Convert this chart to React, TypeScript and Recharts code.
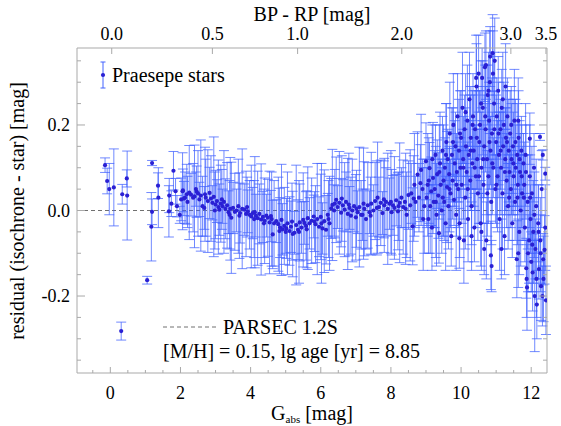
import { ScatterChart, Scatter, XAxis, YAxis, ErrorBar, ReferenceLine } from "recharts";

// [G_abs, residual, error]
const brightStars = [
  [-0.15, 0.106, 0.017], [-0.09, 0.069, 0.03], [-0.03, 0.05, 0.06], [0.1, 0.054, 0.09],
  [0.31, -0.282, 0.021], [0.34, 0.038, 0.023], [0.47, 0.075, 0.02], [0.48, 0.035, 0.104],
  [1.05, -0.163, 0.009], [1.19, 0.111, 0.006], [1.19, -0.003, 0.03], [1.17, -0.038, 0.08],
  [1.36, 0.058, 0.03], [1.37, 0.03, 0.07], [1.67, -0.002, 0.06], [1.68, 0.035, 0.04],
  [1.74, 0.016, 0.03], [1.8, 0.093, 0.045], [1.86, 0.045, 0.03], [1.9, 0.01, 0.025],
  [1.98, -0.01, 0.02], [2.07, 0.047, 0.05], [2.13, 0.03, 0.06],
];

const midStars = [
  [2.02, 0.026, 0.05], [2.06, 0.045, 0.09], [2.1, 0.028, 0.04], [2.18, 0.038, 0.07], [2.2, 0.02, 0.06],
  [2.25, 0.042, 0.11], [2.3, 0.037, 0.05], [2.36, 0.03, 0.08], [2.4, 0.033, 0.12], [2.44, 0.05, 0.04],
  [2.46, 0.044, 0.06], [2.5, 0.04, 0.1], [2.54, 0.026, 0.04], [2.58, 0.035, 0.13], [2.63, 0.01, 0.07],
  [2.68, 0.006, 0.05], [2.7, 0.038, 0.11], [2.72, 0.03, 0.09], [2.78, 0.022, 0.12], [2.83, 0.041, 0.06],
  [2.87, 0.028, 0.1], [2.91, 0.018, 0.04], [2.95, 0.032, 0.14], [2.98, 0.0, 0.09], [3.0, 0.014, 0.08],
  [3.04, 0.022, 0.05], [3.08, 0.008, 0.11], [3.11, 0.002, 0.06], [3.15, 0.016, 0.09], [3.18, 0.026, 0.07],
  [3.2, 0.01, 0.04], [3.24, 0.02, 0.12], [3.28, 0.004, 0.07], [3.33, 0.012, 0.1], [3.37, -0.004, 0.05],
  [3.4, -0.01, 0.08], [3.42, 0.004, 0.12], [3.45, -0.017, 0.13], [3.5, 0.006, 0.06], [3.55, -0.003, 0.09],
  [3.6, 0.0, 0.05], [3.65, 0.01, 0.11], [3.68, -0.012, 0.1], [3.7, -0.006, 0.07], [3.76, 0.004, 0.14],
  [3.82, 0.002, 0.06], [3.87, -0.008, 0.1], [3.9, 0.008, 0.07], [3.92, -0.002, 0.05], [3.97, -0.01, 0.08],
  [4.02, -0.014, 0.12], [4.06, -0.006, 0.06], [4.1, -0.02, 0.09], [4.12, -0.004, 0.13], [4.15, -0.012, 0.05],
  [4.2, -0.018, 0.11], [4.25, -0.008, 0.07], [4.3, -0.021, 0.13], [4.35, -0.015, 0.06], [4.38, -0.03, 0.08],
  [4.4, -0.024, 0.1], [4.45, -0.012, 0.05], [4.49, -0.017, 0.09], [4.54, -0.028, 0.12], [4.58, -0.013, 0.06],
  [4.6, -0.02, 0.11], [4.63, -0.056, 0.08], [4.67, -0.03, 0.1], [4.73, -0.025, 0.05], [4.79, -0.032, 0.11],
  [4.82, -0.048, 0.1], [4.84, -0.04, 0.07], [4.88, -0.022, 0.13], [4.91, -0.044, 0.06], [4.96, -0.036, 0.09],
  [5.0, -0.05, 0.05], [5.02, -0.042, 0.07], [5.05, -0.03, 0.12], [5.11, -0.048, 0.08], [5.15, -0.038, 0.06],
  [5.18, -0.026, 0.09], [5.2, -0.055, 0.1], [5.25, -0.052, 0.05], [5.3, -0.034, 0.14], [5.35, -0.045, 0.07],
  [5.38, -0.05, 0.12], [5.4, -0.028, 0.09], [5.45, -0.04, 0.06], [5.5, -0.022, 0.11], [5.53, -0.029, 0.05],
  [5.58, -0.036, 0.08], [5.6, -0.044, 0.09], [5.63, -0.018, 0.12], [5.68, -0.03, 0.06], [5.74, -0.024, 0.1],
  [5.8, -0.014, 0.05], [5.82, -0.026, 0.07], [5.85, -0.032, 0.09], [5.9, -0.02, 0.13], [5.95, -0.038, 0.07],
  [6.0, -0.015, 0.1], [6.02, -0.03, 0.14], [6.05, -0.042, 0.06], [6.1, -0.025, 0.12], [6.15, -0.045, 0.08],
  [6.2, -0.01, 0.05], [6.22, -0.02, 0.09], [6.25, -0.03, 0.11], [6.3, 0.005, 0.07], [6.33, 0.013, 0.13],
  [6.38, 0.0, 0.06], [6.4, 0.016, 0.08], [6.44, 0.025, 0.1], [6.48, 0.008, 0.05], [6.53, 0.018, 0.12],
  [6.58, -0.005, 0.08], [6.6, 0.028, 0.1], [6.63, 0.012, 0.06], [6.68, 0.002, 0.11], [6.72, 0.02, 0.07],
  [6.77, -0.008, 0.13], [6.8, 0.014, 0.12], [6.82, 0.006, 0.05], [6.86, -0.012, 0.09], [6.9, 0.0, 0.12],
  [6.95, 0.01, 0.06], [7.0, -0.016, 0.1], [7.02, 0.004, 0.09], [7.05, -0.004, 0.05], [7.1, 0.008, 0.14],
  [7.15, -0.01, 0.08], [7.19, -0.01, 0.06], [7.22, 0.016, 0.13], [7.24, 0.004, 0.11], [7.29, -0.02, 0.07],
  [7.34, 0.012, 0.1], [7.39, -0.004, 0.05], [7.42, -0.012, 0.09], [7.44, 0.016, 0.12], [7.5, 0.0, 0.06],
  [7.55, 0.022, 0.09], [7.6, 0.006, 0.11], [7.62, 0.03, 0.13], [7.66, 0.008, 0.07], [7.71, 0.018, 0.1],
  [7.76, -0.006, 0.05], [7.8, 0.026, 0.09], [7.81, 0.012, 0.11], [7.86, 0.02, 0.08], [7.91, 0.004, 0.13],
  [7.96, 0.016, 0.06], [8.0, 0.02, 0.12], [8.02, -0.004, 0.1], [8.06, 0.012, 0.07], [8.1, 0.006, 0.12],
  [8.15, 0.024, 0.06], [8.2, -0.002, 0.09], [8.22, 0.01, 0.08], [8.25, 0.018, 0.14], [8.3, 0.03, 0.07],
  [8.35, 0.008, 0.11], [8.4, 0.02, 0.06], [8.42, 0.004, 0.13], [8.45, -0.01, 0.1], [8.5, 0.036, 0.08],
  [8.55, 0.012, 0.13], [8.58, 0.04, 0.07], [8.62, -0.037, 0.09], [8.65, 0.028, 0.1], [8.67, 0.06, 0.12],
  [8.7, 0.02, 0.06], [8.76, 0.084, 0.1], [8.8, 0.03, 0.08], [8.84, 0.064, 0.09], [8.86, 0.095, 0.13],
  [8.9, 0.05, 0.07], [8.92, -0.02, 0.12], [8.95, 0.01, 0.11],
];

const faintStars = [
  [9.0, 0.115, 0.09], [9.02, 0.03, 0.07], [9.05, 0.06, 0.12], [9.07, -0.02, 0.08], [9.08, 0.07, 0.1],
  [9.1, 0.099, 0.06], [9.12, 0.01, 0.11], [9.15, 0.045, 0.08], [9.17, -0.04, 0.1], [9.18, 0.12, 0.08],
  [9.2, 0.076, 0.13], [9.22, 0.02, 0.06], [9.25, 0.05, 0.09], [9.27, 0.13, 0.07], [9.28, 0.02, 0.13],
  [9.3, -0.01, 0.12], [9.32, 0.085, 0.08], [9.35, 0.035, 0.1], [9.37, -0.053, 0.07], [9.38, 0.09, 0.11],
  [9.4, 0.11, 0.12], [9.42, 0.06, 0.06], [9.45, 0.0, 0.1], [9.47, 0.14, 0.08], [9.48, 0.03, 0.09],
  [9.5, 0.07, 0.13], [9.52, 0.02, 0.09], [9.54, 0.1, 0.07], [9.56, -0.03, 0.11], [9.57, 0.13, 0.12],
  [9.58, 0.16, 0.09], [9.6, 0.055, 0.13], [9.62, 0.12, 0.07], [9.64, 0.01, 0.1], [9.66, 0.085, 0.06],
  [9.67, 0.05, 0.1], [9.68, 0.18, 0.12], [9.7, 0.04, 0.08], [9.72, -0.06, 0.07], [9.74, 0.13, 0.11],
  [9.76, 0.07, 0.09], [9.77, 0.16, 0.08], [9.78, 0.2, 0.12], [9.8, 0.025, 0.06], [9.82, 0.11, 0.1],
  [9.84, 0.15, 0.08], [9.86, -0.01, 0.13], [9.87, 0.06, 0.12], [9.88, 0.09, 0.07], [9.9, 0.22, 0.1],
  [9.92, 0.05, 0.09], [9.94, 0.14, 0.12], [9.95, -0.065, 0.07], [9.96, -0.03, 0.08], [9.97, 0.18, 0.1],
  [9.98, 0.1, 0.07], [10.0, 0.17, 0.11], [10.02, 0.06, 0.09], [10.04, 0.24, 0.13], [10.06, 0.12, 0.07],
  [10.07, 0.1, 0.12], [10.08, -0.07, 0.1], [10.1, 0.19, 0.08], [10.12, 0.03, 0.12], [10.13, 0.23, 0.09],
  [10.14, 0.15, 0.09], [10.16, 0.09, 0.06], [10.18, 0.21, 0.13], [10.19, 0.05, 0.11], [10.2, -0.02, 0.1],
  [10.22, 0.13, 0.08], [10.24, 0.26, 0.11], [10.26, 0.07, 0.07], [10.27, 0.14, 0.13], [10.28, 0.17, 0.12],
  [10.3, 0.01, 0.09], [10.3, -0.06, 0.08], [10.32, 0.11, 0.06], [10.33, 0.2, 0.08], [10.34, 0.22, 0.1],
  [10.36, 0.14, 0.13], [10.38, -0.04, 0.08], [10.39, 0.1, 0.1], [10.4, 0.19, 0.09], [10.42, 0.08, 0.12],
  [10.43, 0.31, 0.1], [10.44, 0.29, 0.1], [10.45, 0.17, 0.12], [10.46, 0.12, 0.07], [10.48, 0.04, 0.11],
  [10.5, 0.32, 0.09], [10.51, 0.08, 0.11], [10.52, 0.16, 0.12], [10.54, 0.2, 0.08], [10.56, -0.03, 0.1],
  [10.57, 0.25, 0.1], [10.58, 0.1, 0.13], [10.58, -0.05, 0.09], [10.6, 0.31, 0.07], [10.62, 0.24, 0.11],
  [10.63, 0.12, 0.09], [10.64, 0.06, 0.09], [10.66, 0.15, 0.12], [10.66, -0.09, 0.06], [10.68, 0.335, 0.08],
  [10.69, 0.22, 0.12], [10.7, 0.19, 0.1], [10.71, 0.34, 0.08], [10.72, -0.07, 0.09], [10.74, 0.12, 0.13],
  [10.75, 0.04, 0.1], [10.76, 0.27, 0.07], [10.78, 0.08, 0.11], [10.78, 0.28, 0.09], [10.8, 0.21, 0.09],
  [10.81, 0.16, 0.11], [10.82, 0.3, 0.12], [10.83, 0.36, 0.07], [10.84, 0.14, 0.08], [10.85, -0.105, 0.08],
  [10.86, 0.02, 0.1], [10.87, -0.13, 0.06], [10.88, 0.18, 0.13], [10.89, 0.11, 0.12], [10.9, 0.368, 0.09],
  [10.91, 0.32, 0.1], [10.92, 0.1, 0.07], [10.94, 0.25, 0.12], [10.95, 0.19, 0.09], [10.96, 0.35, 0.1],
  [10.98, 0.05, 0.08], [11.0, 0.16, 0.11], [11.01, 0.06, 0.1], [11.02, 0.22, 0.09], [11.04, 0.08, 0.13],
  [11.06, 0.28, 0.08], [11.07, 0.18, 0.12], [11.08, 0.13, 0.1], [11.1, -0.02, 0.12], [11.12, 0.19, 0.07],
  [11.13, 0.14, 0.09], [11.14, 0.1, 0.11], [11.15, -0.09, 0.07], [11.16, 0.24, 0.09], [11.18, 0.04, 0.13],
  [11.19, 0.26, 0.11], [11.2, 0.15, 0.08], [11.22, 0.2, 0.1], [11.24, -0.06, 0.09], [11.25, 0.09, 0.1],
  [11.26, 0.12, 0.12], [11.27, 0.29, 0.1], [11.28, 0.17, 0.07], [11.3, 0.07, 0.11], [11.31, 0.16, 0.12],
  [11.32, 0.22, 0.09], [11.34, 0.01, 0.1], [11.36, 0.14, 0.12], [11.37, 0.03, 0.1], [11.38, 0.09, 0.08],
  [11.4, 0.18, 0.1], [11.42, 0.05, 0.09], [11.43, 0.2, 0.09], [11.44, 0.12, 0.13], [11.46, -0.03, 0.08],
  [11.48, 0.15, 0.11], [11.49, 0.11, 0.12], [11.5, 0.08, 0.07], [11.52, 0.21, 0.12], [11.54, 0.02, 0.09],
  [11.55, 0.16, 0.1], [11.56, 0.1, 0.1], [11.59, -0.114, 0.09], [11.6, 0.13, 0.12], [11.61, 0.03, 0.11],
  [11.62, 0.06, 0.07], [11.63, 0.21, 0.1], [11.63, -0.1, 0.08], [11.64, 0.17, 0.11], [11.66, -0.05, 0.1],
  [11.67, 0.12, 0.09], [11.68, 0.09, 0.09], [11.7, 0.0, 0.13], [11.72, 0.14, 0.08], [11.73, 0.08, 0.12],
  [11.74, 0.04, 0.11], [11.78, 0.11, 0.07], [11.79, 0.03, 0.1], [11.8, 0.06, 0.1], [11.82, -0.04, 0.08],
  [11.84, 0.13, 0.12], [11.85, 0.09, 0.11], [11.86, -0.135, 0.07], [11.87, -0.16, 0.09], [11.88, -0.18, 0.1],
  [11.9, 0.02, 0.11], [11.91, -0.1, 0.09], [11.94, -0.07, 0.1], [11.96, 0.168, 0.06], [11.96, 0.08, 0.12],
  [11.97, 0.03, 0.1], [11.98, -0.02, 0.08], [12.0, -0.12, 0.07], [12.02, 0.04, 0.11], [12.03, -0.08, 0.11],
  [12.04, -0.145, 0.09], [12.06, -0.05, 0.12], [12.08, 0.1, 0.08], [12.09, -0.01, 0.1], [12.1, -0.2, 0.13],
  [12.12, -0.09, 0.07], [12.14, 0.01, 0.11], [12.15, -0.16, 0.09], [12.16, -0.22, 0.08], [12.2, -0.03, 0.09],
  [12.21, -0.05, 0.11], [12.22, -0.137, 0.07], [12.25, 0.172, 0.008], [12.26, -0.07, 0.1], [12.27, -0.1, 0.09],
  [12.28, -0.177, 0.08], [12.3, 0.05, 0.09], [12.32, -0.2, 0.07], [12.33, 0.13, 0.012], [12.34, -0.114, 0.06],
  [12.35, -0.16, 0.1], [12.38, -0.092, 0.08], [12.4, 0.086, 0.015], [12.4, -0.04, 0.1], [12.42, -0.21, 0.08],
];

const gTicks = [-0.5, 0, 0.5, 1, 1.5, 2, 2.5, 3, 3.5, 4, 4.5, 5, 5.5, 6, 6.5, 7, 7.5, 8, 8.5, 9, 9.5, 10, 10.5, 11, 11.5, 12];
const gLabelled = [0, 2, 4, 6, 8, 10, 12];
// BP-RP tick positions, placed at the G_abs where the isochrone has that colour
const bpRpTickG = [0.04, 2.91, 5.34, 8.31, 11.42, 12.42];
const bpRpLabels = ["0.0", "0.5", "1.0", "2.0", "3.0", "3.5"];
const residTicks = [-0.35, -0.3, -0.25, -0.2, -0.15, -0.1, -0.05, 0, 0.05, 0.1, 0.15, 0.2, 0.25, 0.3, 0.35];
const residLabelled = [-0.2, 0, 0.2];

const stars = [...brightStars, ...midStars, ...faintStars].map(([g, r, e]) => ({ g, r, e }));

const FONT = "'Liberation Serif', 'Times New Roman', serif";
const FRAME = "#a9a9a9";
const DOT = "#2a20d4";
const BAR = "#4262ff";
const TICK_FS = 18;

function BottomTick({ x, y, payload }: any) {
  const major = gLabelled.includes(payload.value);
  return (
    <g>
      <line x1={x} x2={x} y1={y} y2={y - (major ? 6 : 3)} stroke={FRAME} />
      {major && (
        <text x={x} y={y + 26} textAnchor="middle" fontSize={TICK_FS} fontFamily={FONT} fill="#000">
          {payload.value}
        </text>
      )}
    </g>
  );
}

function TopTick({ x, y, payload }: any) {
  const i = bpRpTickG.indexOf(payload.value);
  return (
    <g>
      <line x1={x} x2={x} y1={y} y2={y + 6} stroke={FRAME} />
      <text x={x} y={y - 8} textAnchor="middle" fontSize={TICK_FS} fontFamily={FONT} fill="#000">
        {bpRpLabels[i]}
      </text>
    </g>
  );
}

function LeftTick({ x, y, payload }: any) {
  const major = residLabelled.some((v) => Math.abs(v - payload.value) < 1e-9);
  return (
    <g>
      <line x1={x} x2={x + (major ? 8 : 4)} y1={y} y2={y} stroke={FRAME} />
      {major && (
        <text x={x - 7} y={y} dy="0.35em" textAnchor="end" fontSize={TICK_FS} fontFamily={FONT} fill="#000">
          {payload.value.toFixed(1)}
        </text>
      )}
    </g>
  );
}

function RightTick({ x, y, payload }: any) {
  const major = residLabelled.some((v) => Math.abs(v - payload.value) < 1e-9);
  return <line x1={x} x2={x - (major ? 8 : 4)} y1={y} y2={y} stroke={FRAME} />;
}

export default function App() {
  return (
    <div style={{ position: "absolute", left: 0, top: 0, width: 561, height: 426, background: "#fff" }}>
      <ScatterChart width={561} height={426} margin={{ top: 0, right: 0, bottom: 0, left: 0 }}>
        <XAxis
          xAxisId="bottom"
          dataKey="g"
          type="number"
          domain={[-0.95, 12.45]}
          allowDataOverflow
          ticks={gTicks}
          interval={0}
          height={53}
          tickSize={0}
          tickMargin={0}
          stroke={FRAME}
          tick={<BottomTick />}
          label={{
            content: () => (
              <text x={312} y={420} textAnchor="middle" fontSize={20} fontFamily={FONT} fill="#000">
                G<tspan fontSize={11} dy={3}>abs</tspan>
                <tspan dy={-3}> [mag]</tspan>
              </text>
            ),
          }}
        />
        <XAxis
          xAxisId="top"
          dataKey="g"
          orientation="top"
          type="number"
          domain={[-0.95, 12.45]}
          allowDataOverflow
          ticks={bpRpTickG}
          interval={0}
          height={48}
          tickSize={0}
          tickMargin={0}
          stroke={FRAME}
          tick={<TopTick />}
          label={{
            content: () => (
              <text x={312} y={21} textAnchor="middle" fontSize={20} fontFamily={FONT} fill="#000">
                BP - RP [mag]
              </text>
            ),
          }}
        />
        <YAxis
          yAxisId="left"
          dataKey="r"
          type="number"
          domain={[-0.38, 0.38]}
          allowDataOverflow
          ticks={residTicks}
          interval={0}
          width={77}
          tickSize={0}
          tickMargin={0}
          stroke={FRAME}
          tick={<LeftTick />}
          label={{
            content: () => (
              <text
                x={24}
                y={211}
                transform="rotate(-90 24 211)"
                textAnchor="middle"
                fontSize={20}
                fontFamily={FONT}
                fill="#000"
              >
                residual (isochrone - star) [mag]
              </text>
            ),
          }}
        />
        <YAxis
          yAxisId="right"
          dataKey="r"
          orientation="right"
          type="number"
          domain={[-0.38, 0.38]}
          allowDataOverflow
          ticks={residTicks}
          interval={0}
          width={14}
          tickSize={0}
          tickMargin={0}
          stroke={FRAME}
          tick={<RightTick />}
        />
        <ReferenceLine xAxisId="bottom" yAxisId="left" y={0} stroke="#707070" strokeDasharray="4 3" />
        {/* invisible copy so the top and right axes get drawn */}
        <Scatter
          data={stars}
          xAxisId="top"
          yAxisId="right"
          isAnimationActive={false}
          shape={() => <g />}
        />
        <Scatter
          data={stars}
          xAxisId="bottom"
          yAxisId="left"
          isAnimationActive={false}
          shape={(p: any) => <circle cx={p.cx} cy={p.cy} r={2.1} fill={DOT} />}
        >
          <ErrorBar dataKey="e" direction="y" width={5} stroke={BAR} strokeWidth={1} strokeOpacity={0.75} />
        </Scatter>
      </ScatterChart>
      <svg
        width={561}
        height={426}
        style={{ position: "absolute", left: 0, top: 0, pointerEvents: "none" }}
        fontFamily={FONT}
      >
        <g stroke={BAR}>
          <line x1={103} x2={103} y1={62} y2={88} />
          <line x1={100.5} x2={105.5} y1={62} y2={62} />
          <line x1={100.5} x2={105.5} y1={88} y2={88} />
        </g>
        <circle cx={103} cy={75} r={2.1} fill={DOT} />
        <text x={112} y={82} fontSize={20} fill="#000">
          Praesepe stars
        </text>
        <line x1={163} x2={217} y1={327} y2={327} stroke="#707070" strokeDasharray="4 3" />
        <text x={223} y={334} fontSize={20} fill="#000">
          PARSEC 1.2S
        </text>
        <text x={163} y={358} fontSize={20} fill="#000">
          [M/H] = 0.15, lg age [yr] = 8.85
        </text>
      </svg>
    </div>
  );
}
